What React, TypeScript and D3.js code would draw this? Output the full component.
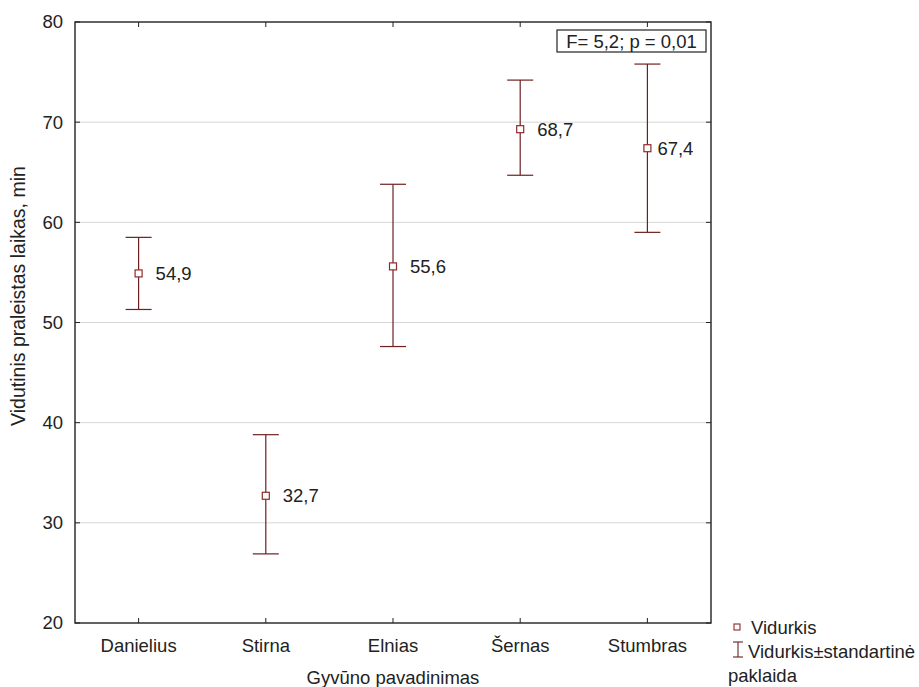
import React from "react";
import * as d3 from "d3";

const categories = ["Danielius", "Stirna", "Elnias", "Šernas", "Stumbras"];
const means = [54.9, 32.7, 55.6, 69.3, 67.4];
const meanLabels = ["54,9", "32,7", "55,6", "68,7", "67,4"];
const upper = [58.5, 38.8, 63.8, 74.2, 75.8];
const lower = [51.3, 26.9, 47.6, 64.7, 59.0];
const yTicks = [20, 30, 40, 50, 60, 70, 80];

const W = 919;
const H = 687;
const left = 75;
const right = 711;
const top = 22;
const bottom = 623;
const font = "'Liberation Sans', Arial, sans-serif";
const barColor = "#6e2020";
const markColor = "#8e2a2a";
const textColor = "#222";
const fs = 18.5;

const App = () => {
  const x = d3.scalePoint<string>().domain(categories).range([left, right]).padding(0.5);
  const y = d3.scaleLinear().domain([20, 80]).range([bottom, top]);
  const cap = 13;
  const tick = 5;

  return (
    <svg
      width={W}
      height={H}
      style={{ position: "absolute", left: 0, top: 0, background: "#fff" }}
      fontFamily={font}
    >
      {/* grid */}
      {yTicks.slice(1, -1).map(t => (
        <line key={"g" + t} x1={left} x2={right} y1={y(t)} y2={y(t)} stroke="#d6d6d6" strokeWidth={1} />
      ))}

      {/* frame */}
      <rect x={left} y={top} width={right - left} height={bottom - top} fill="none" stroke="#222" strokeWidth={1.4} />

      {/* y ticks + labels */}
      {yTicks.map(t => (
        <g key={"y" + t}>
          <line x1={left} x2={left + tick} y1={y(t)} y2={y(t)} stroke="#222" />
          <line x1={right} x2={right - tick} y1={y(t)} y2={y(t)} stroke="#222" />
          <text x={left - 12} y={y(t)} dy="0.35em" textAnchor="end" fontSize={fs} fill={textColor}>
            {t}
          </text>
        </g>
      ))}

      {/* x ticks + labels */}
      {categories.map(c => (
        <g key={"x" + c}>
          <line x1={x(c)} x2={x(c)} y1={bottom} y2={bottom - tick} stroke="#222" />
          <line x1={x(c)} x2={x(c)} y1={top} y2={top + tick} stroke="#222" />
          <text x={x(c)} y={652} textAnchor="middle" fontSize={fs} fill={textColor}>
            {c}
          </text>
        </g>
      ))}

      {/* axis titles */}
      <text x={393} y={684} textAnchor="middle" fontSize={fs} fill={textColor}>
        Gyvūno pavadinimas
      </text>
      <text
        transform={`translate(25,296) rotate(-90)`}
        textAnchor="middle"
        fontSize={19.5}
        fill={textColor}
      >
        Vidutinis praleistas laikas, min
      </text>

      {/* error bars */}
      {categories.map((c, i) => {
        const cx = x(c) as number;
        return (
          <g key={"e" + c}>
            <line x1={cx} x2={cx} y1={y(upper[i])} y2={y(lower[i])} stroke={barColor} strokeWidth={1.2} />
            <line x1={cx - cap} x2={cx + cap} y1={y(upper[i])} y2={y(upper[i])} stroke={barColor} strokeWidth={1.2} />
            <line x1={cx - cap} x2={cx + cap} y1={y(lower[i])} y2={y(lower[i])} stroke={barColor} strokeWidth={1.2} />
            <rect x={cx - 3.5} y={y(means[i]) - 3.5} width={7} height={7} fill="#fff" stroke={markColor} strokeWidth={1.2} />
            <text
              x={cx + (i === 4 ? 10 : 17)}
              y={y(means[i])}
              dy="0.35em"
              fontSize={fs}
              fill={textColor}
            >
              {meanLabels[i]}
            </text>
          </g>
        );
      })}

      {/* stats box */}
      <rect x={557} y={30} width={149} height={22} fill="#fff" stroke="#222" strokeWidth={1.2} />
      <text x={631.5} y={41.5} dy="0.35em" textAnchor="middle" fontSize={fs} fill={textColor}>
        F= 5,2; p = 0,01
      </text>

      {/* legend */}
      <rect x={734} y={624} width={6} height={6} fill="#fff" stroke={markColor} strokeWidth={1.1} />
      <text x={751} y={634} fontSize={fs} fill={textColor}>
        Vidurkis
      </text>
      <line x1={738} x2={738} y1={642} y2={657} stroke={barColor} strokeWidth={1.1} />
      <line x1={733} x2={743} y1={642} y2={642} stroke={barColor} strokeWidth={1.1} />
      <line x1={733} x2={743} y1={657} y2={657} stroke={barColor} strokeWidth={1.1} />
      <text x={748} y={658} fontSize={fs} fill={textColor}>
        Vidurkis±standartinė
      </text>
      <text x={728} y={682} fontSize={fs} fill={textColor}>
        paklaida
      </text>
    </svg>
  );
};

export default App;
